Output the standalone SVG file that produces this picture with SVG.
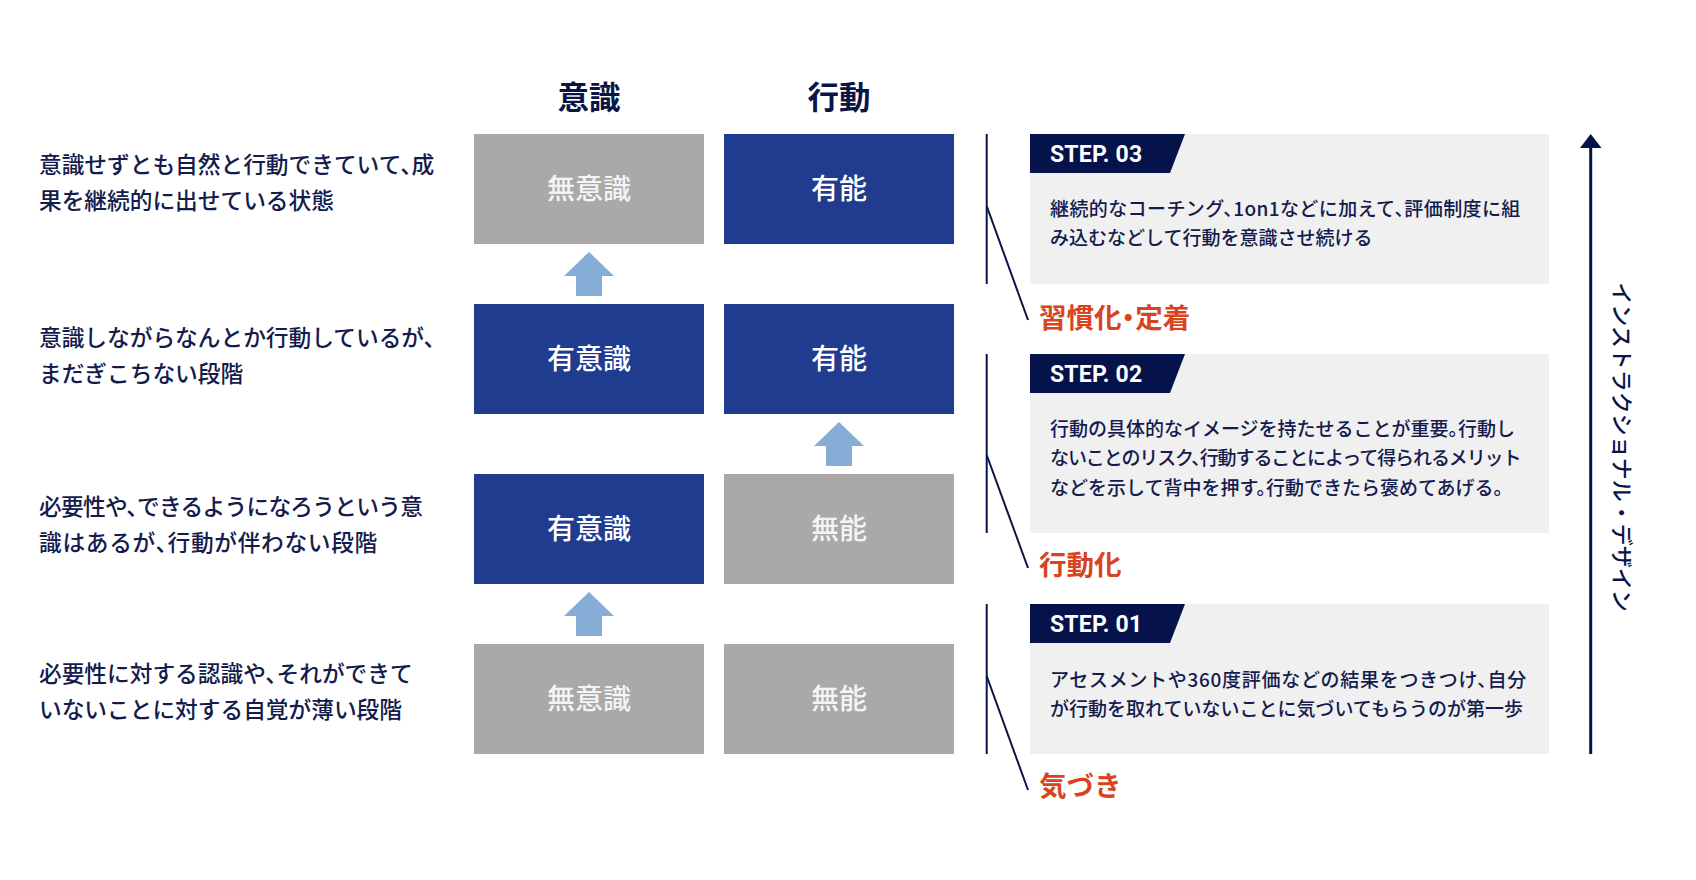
<svg xmlns="http://www.w3.org/2000/svg" width="1696" height="880" viewBox="0 0 1696 880">
<style>
.desc{font-family:"Noto Sans CJK JP","Noto Sans",sans-serif;font-size:22.7px;fill:#141b4d;font-weight:500;font-feature-settings:"halt"}
.hdr{font-family:"Noto Sans CJK JP",sans-serif;font-size:31.5px;font-weight:700;fill:#0b1446;text-anchor:middle}
.box-b{fill:#1f3c8f}
.box-g{fill:#a9a9a9}
.btxt{font-family:"Noto Sans CJK JP",sans-serif;font-size:28px;font-weight:500;fill:#ffffff;text-anchor:middle}
.gtxt{fill:#f4f4f4}
.uparrow{fill:#85add6}
.vline{stroke:#0b1446;stroke-width:2;fill:none}
.panel{fill:#f0f0f0}
.tab{fill:#06134a}
.steptxt{font-family:Roboto,"Liberation Sans",sans-serif;font-size:23px;font-weight:700;fill:#ffffff;letter-spacing:0.2px}
.body{font-family:"Noto Sans CJK JP",sans-serif;font-size:19px;font-weight:500;fill:#141b4d;font-feature-settings:"halt"}
.lbl{font-family:"Noto Sans CJK JP",sans-serif;font-size:27.5px;font-weight:700;fill:#d9441f;font-feature-settings:"halt"}
.vtxt{font-family:"Noto Sans CJK JP",sans-serif;font-size:22px;font-weight:500;fill:#0b1446;text-anchor:middle}
</style>
<rect width="1696" height="880" fill="#ffffff"/>

<g id="headers">
<text class="hdr" x="589" y="109">意識</text>
<text class="hdr" x="839" y="109">行動</text>
</g>

<g id="desc-row1"><text class="desc" x="39" y="173">意識せずとも自然と行動できていて、成</text><text class="desc" x="39" y="209">果を継続的に出せている状態</text></g>
<g id="desc-row2"><text class="desc" x="39" y="346">意識しながらなんとか行動しているが、</text><text class="desc" x="39" y="382">まだぎこちない段階</text></g>
<g id="desc-row3"><text class="desc" x="39" y="515" letter-spacing="-0.7">必要性や、できるようになろうという意</text><text class="desc" x="39" y="551" letter-spacing="0.7">識はあるが、行動が伴わない段階</text></g>
<g id="desc-row4"><text class="desc" x="39" y="682">必要性に対する認識や、それができて</text><text class="desc" x="39" y="718">いないことに対する自覚が薄い段階</text></g>

<g id="r1-ishiki"><rect class="box-g" x="474" y="134" width="230" height="110"/><text class="btxt gtxt" x="589" y="198.5">無意識</text></g>
<g id="r1-kodo"><rect class="box-b" x="724" y="134" width="230" height="110"/><text class="btxt" x="839" y="198.5">有能</text></g>
<g id="r2-ishiki"><rect class="box-b" x="474" y="304" width="230" height="110"/><text class="btxt" x="589" y="368.5">有意識</text></g>
<g id="r2-kodo"><rect class="box-b" x="724" y="304" width="230" height="110"/><text class="btxt" x="839" y="368.5">有能</text></g>
<g id="r3-ishiki"><rect class="box-b" x="474" y="474" width="230" height="110"/><text class="btxt" x="589" y="538.5">有意識</text></g>
<g id="r3-kodo"><rect class="box-g" x="724" y="474" width="230" height="110"/><text class="btxt gtxt" x="839" y="538.5">無能</text></g>
<g id="r4-ishiki"><rect class="box-g" x="474" y="644" width="230" height="110"/><text class="btxt gtxt" x="589" y="708.5">無意識</text></g>
<g id="r4-kodo"><rect class="box-g" x="724" y="644" width="230" height="110"/><text class="btxt gtxt" x="839" y="708.5">無能</text></g>

<g id="step03">
<rect class="panel" x="1030" y="134" width="519" height="150"/>
<polygon class="tab" points="1030,134 1185,134 1170,173 1030,173"/>
<text class="steptxt" x="1050" y="161.5">STEP. 03</text>
<text class="body" x="1050" y="215.5" letter-spacing="0.4">継続的なコーチング、1on1などに加えて、評価制度に組</text>
<text class="body" x="1050" y="245">み込むなどして行動を意識させ続ける</text>
</g>
<g id="step02">
<rect class="panel" x="1030" y="354" width="519" height="179"/>
<polygon class="tab" points="1030,354 1185,354 1170,393 1030,393"/>
<text class="steptxt" x="1050" y="381.5">STEP. 02</text>
<text class="body" x="1050" y="435.5">行動の具体的なイメージを持たせることが重要。行動し</text>
<text class="body" x="1050" y="465" letter-spacing="-1.1">ないことのリスク、行動することによって得られるメリット</text>
<text class="body" x="1050" y="494.5">などを示して背中を押す。行動できたら褒めてあげる。</text>
</g>
<g id="step01">
<rect class="panel" x="1030" y="604" width="519" height="150"/>
<polygon class="tab" points="1030,604 1185,604 1170,643 1030,643"/>
<text class="steptxt" x="1050" y="631.5">STEP. 01</text>
<text class="body" x="1050" y="686.5" letter-spacing="0.7">アセスメントや360度評価などの結果をつきつけ、自分</text>
<text class="body" x="1050" y="715.5">が行動を取れていないことに気づいてもらうのが第一歩</text>
</g>

<g id="label-habit"><text class="lbl" x="1039" y="328">習慣化・定着</text></g>
<g id="label-action"><text class="lbl" x="1039" y="575">行動化</text></g>
<g id="label-aware"><text class="lbl" x="1039" y="796">気づき</text></g>

<g id="axis-label"><text class="vtxt" transform="translate(1614,447) rotate(90)">インストラクショナル・デザイン</text></g>

<g id="connectors">
<polygon class="uparrow" points="589,252 614,276 602,276 602,296 576,296 576,276 564,276"/>
<polygon class="uparrow" points="839,422 864,446 852,446 852,466 826,466 826,446 814,446"/>
<polygon class="uparrow" points="589,592 614,616 602,616 602,636 576,636 576,616 564,616"/>
<line class="vline" x1="986.7" y1="134" x2="986.7" y2="284"/>
<line class="vline" x1="986.7" y1="354" x2="986.7" y2="533"/>
<line class="vline" x1="986.7" y1="604" x2="986.7" y2="754"/>
<line class="vline" x1="986.7" y1="206" x2="1028" y2="320"/>
<line class="vline" x1="986.7" y1="455" x2="1028" y2="568"/>
<line class="vline" x1="986.7" y1="676" x2="1028" y2="790"/>
<line x1="1590.7" y1="146" x2="1590.7" y2="754" stroke="#06134a" stroke-width="3"/>
<polygon points="1580,148 1590.7,134 1601.5,148" fill="#06134a"/>
</g>
</svg>
